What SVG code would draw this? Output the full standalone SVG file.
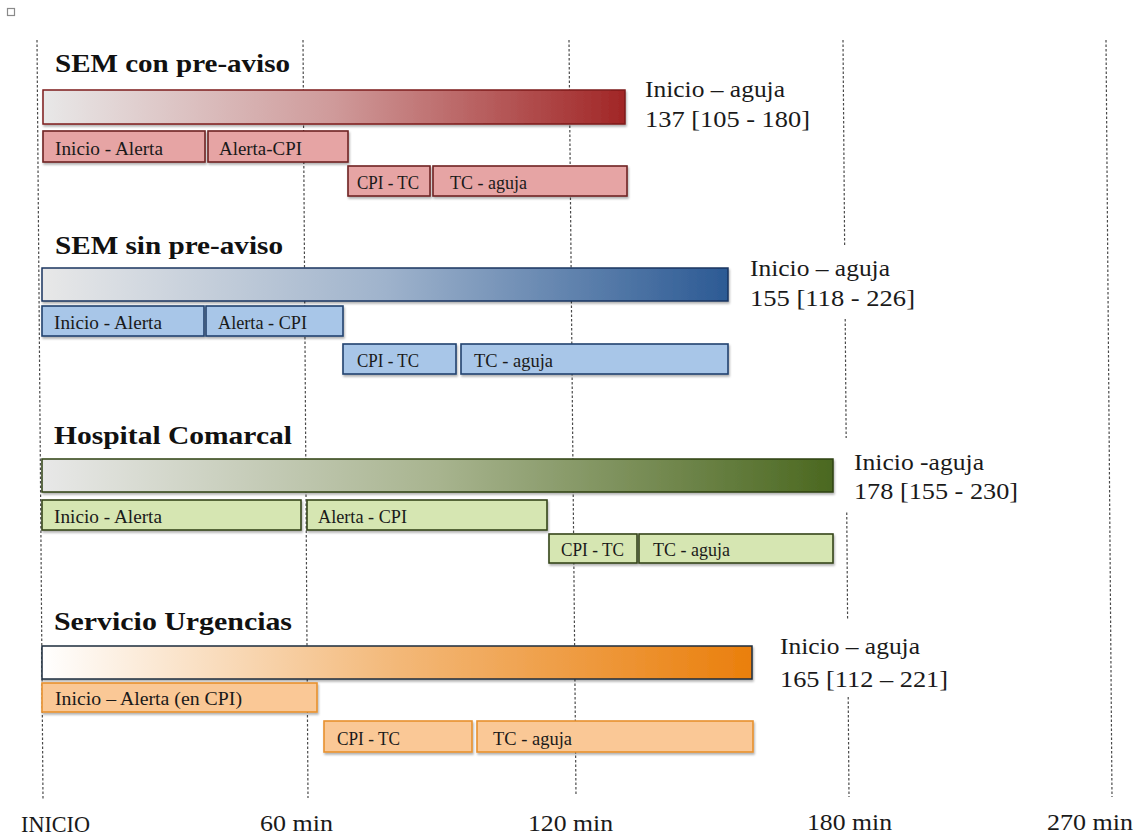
<svg xmlns="http://www.w3.org/2000/svg" width="1144" height="838" viewBox="0 0 1144 838">
  <defs>
    <style>
      .title { font-family: "Liberation Serif", "DejaVu Serif", serif; font-weight: bold; font-size: 26px; fill: #111; }
      .seg { font-family: "Liberation Serif", "DejaVu Serif", serif; font-size: 19px; fill: #1a1a1a; }
      .lbl { font-family: "Liberation Serif", "DejaVu Serif", serif; font-size: 23px; fill: #1a1a1a; }
      .axis { font-family: "Liberation Serif", "DejaVu Serif", serif; font-size: 23px; fill: #1a1a1a; }
      .grid { stroke: #4a4a4a; stroke-width: 1.2; stroke-dasharray: 2.5 2; fill: none; }
      .mask { fill: #fff; }
      .red-seg { fill: #e6a4a4; stroke: #6e2424; stroke-width: 1.6; }
      .blue-seg { fill: #a8c6e8; stroke: #22426f; stroke-width: 1.6; }
      .green-seg { fill: #d6e6b2; stroke: #36461a; stroke-width: 1.6; }
      .orange-seg { fill: #fac896; stroke: #e8912f; stroke-width: 1.6; }
    </style>
    <filter id="shadow" x="-5%" y="-30%" width="110%" height="170%">
      <feDropShadow dx="1" dy="2" stdDeviation="1.2" flood-color="#000" flood-opacity="0.3"/>
    </filter>
    <linearGradient id="gRed" x1="0" y1="0" x2="1" y2="0">
      <stop offset="0" stop-color="#e8e8e8"/>
      <stop offset="0.5" stop-color="#cf9a9a"/>
      <stop offset="1" stop-color="#a12626"/>
    </linearGradient>
    <linearGradient id="gBlue" x1="0" y1="0" x2="1" y2="0">
      <stop offset="0" stop-color="#e8e8e8"/>
      <stop offset="0.5" stop-color="#9fb3cc"/>
      <stop offset="1" stop-color="#2c5a94"/>
    </linearGradient>
    <linearGradient id="gGreen" x1="0" y1="0" x2="1" y2="0">
      <stop offset="0" stop-color="#e8e8e8"/>
      <stop offset="0.5" stop-color="#a8b48f"/>
      <stop offset="1" stop-color="#4b6820"/>
    </linearGradient>
    <linearGradient id="gOrange" x1="0" y1="0" x2="1" y2="0">
      <stop offset="0" stop-color="#ffffff"/>
      <stop offset="0.5" stop-color="#f3b878"/>
      <stop offset="1" stop-color="#ea7f0c"/>
    </linearGradient>
  </defs>

  <rect width="1144" height="838" fill="#fff"/>
  <rect x="7.5" y="8.5" width="7" height="7" fill="#fff" stroke="#8a8a8a" stroke-width="1.2"/>

  <!-- time grid -->
  <g id="connectors">
    <line class="grid" x1="37" y1="40" x2="43" y2="799"/>
    <line class="grid" x1="303" y1="40" x2="308" y2="798"/>
    <line class="grid" x1="569" y1="40" x2="576" y2="796"/>
    <line class="grid" x1="843" y1="40" x2="849" y2="797"/>
    <line class="grid" x1="1106" y1="40" x2="1112" y2="797"/>
  </g>

  <!-- label backdrops interrupting the 180 min line -->
  <rect class="mask" x="738" y="246" width="190" height="71"/>
  <rect class="mask" x="838" y="438" width="190" height="73"/>
  <rect class="mask" x="770" y="620" width="190" height="75"/>

  <!-- SEM con pre-aviso -->
  <g id="sem-con">
    <text class="title" x="55" y="72" textLength="235" lengthAdjust="spacingAndGlyphs">SEM con pre-aviso</text>
    <rect x="43" y="90" width="582" height="34" fill="url(#gRed)" stroke="#7d1c1c" stroke-width="1.5" filter="url(#shadow)"/>
    <rect class="red-seg" x="43" y="131" width="162" height="31" filter="url(#shadow)"/>
    <text class="seg" x="55" y="155" textLength="108" lengthAdjust="spacingAndGlyphs">Inicio - Alerta</text>
    <rect class="red-seg" x="208" y="131" width="140" height="31" filter="url(#shadow)"/>
    <text class="seg" x="219" y="155" textLength="83" lengthAdjust="spacingAndGlyphs">Alerta-CPI</text>
    <rect class="red-seg" x="348" y="166" width="82" height="30" filter="url(#shadow)"/>
    <text class="seg" x="357" y="189" textLength="62" lengthAdjust="spacingAndGlyphs">CPI - TC</text>
    <rect class="red-seg" x="433" y="166" width="194" height="30" filter="url(#shadow)"/>
    <text class="seg" x="450" y="189" textLength="77" lengthAdjust="spacingAndGlyphs">TC - aguja</text>
    <text class="lbl" x="645" y="97" textLength="140" lengthAdjust="spacingAndGlyphs">Inicio – aguja</text>
    <text class="lbl" x="645" y="127" textLength="165" lengthAdjust="spacingAndGlyphs">137 [105 - 180]</text>
  </g>

  <!-- SEM sin pre-aviso -->
  <g id="sem-sin">
    <text class="title" x="55" y="254" textLength="228" lengthAdjust="spacingAndGlyphs">SEM sin pre-aviso</text>
    <rect x="42" y="268" width="686" height="33" fill="url(#gBlue)" stroke="#1b3560" stroke-width="1.5" filter="url(#shadow)"/>
    <rect class="blue-seg" x="42" y="306" width="162" height="30" filter="url(#shadow)"/>
    <text class="seg" x="54" y="329" textLength="108" lengthAdjust="spacingAndGlyphs">Inicio - Alerta</text>
    <rect class="blue-seg" x="206" y="306" width="137" height="30" filter="url(#shadow)"/>
    <text class="seg" x="218" y="329" textLength="89" lengthAdjust="spacingAndGlyphs">Alerta - CPI</text>
    <rect class="blue-seg" x="343" y="344" width="113" height="30" filter="url(#shadow)"/>
    <text class="seg" x="357" y="367" textLength="62" lengthAdjust="spacingAndGlyphs">CPI - TC</text>
    <rect class="blue-seg" x="461" y="344" width="267" height="30" filter="url(#shadow)"/>
    <text class="seg" x="474" y="367" textLength="79" lengthAdjust="spacingAndGlyphs">TC - aguja</text>
    <text class="lbl" x="750" y="276" textLength="140" lengthAdjust="spacingAndGlyphs">Inicio – aguja</text>
    <text class="lbl" x="750" y="306" textLength="165" lengthAdjust="spacingAndGlyphs">155 [118 - 226]</text>
  </g>

  <!-- Hospital Comarcal -->
  <g id="hospital-comarcal">
    <text class="title" x="54" y="444" textLength="238" lengthAdjust="spacingAndGlyphs">Hospital Comarcal</text>
    <rect x="42" y="459" width="791" height="33" fill="url(#gGreen)" stroke="#2f4213" stroke-width="1.5" filter="url(#shadow)"/>
    <rect class="green-seg" x="42" y="500" width="259" height="30" filter="url(#shadow)"/>
    <text class="seg" x="54" y="523" textLength="108" lengthAdjust="spacingAndGlyphs">Inicio - Alerta</text>
    <rect class="green-seg" x="307" y="500" width="240" height="30" filter="url(#shadow)"/>
    <text class="seg" x="318" y="523" textLength="89" lengthAdjust="spacingAndGlyphs">Alerta - CPI</text>
    <rect class="green-seg" x="549" y="534" width="88" height="29" filter="url(#shadow)"/>
    <text class="seg" x="561" y="556" textLength="63" lengthAdjust="spacingAndGlyphs">CPI - TC</text>
    <rect class="green-seg" x="639" y="534" width="194" height="29" filter="url(#shadow)"/>
    <text class="seg" x="653" y="556" textLength="77" lengthAdjust="spacingAndGlyphs">TC - aguja</text>
    <text class="lbl" x="854" y="470" textLength="130" lengthAdjust="spacingAndGlyphs">Inicio -aguja</text>
    <text class="lbl" x="854" y="499" textLength="164" lengthAdjust="spacingAndGlyphs">178 [155 - 230]</text>
  </g>

  <!-- Servicio Urgencias -->
  <g id="servicio-urgencias">
    <text class="title" x="54" y="630" textLength="238" lengthAdjust="spacingAndGlyphs">Servicio Urgencias</text>
    <rect x="42" y="646" width="710" height="33" fill="url(#gOrange)" stroke="#1e2b3c" stroke-width="1.5" filter="url(#shadow)"/>
    <rect class="orange-seg" x="42" y="683" width="275" height="29" filter="url(#shadow)"/>
    <text class="seg" x="55" y="705" textLength="187" lengthAdjust="spacingAndGlyphs">Inicio – Alerta (en CPI)</text>
    <rect class="orange-seg" x="324" y="721" width="148" height="31" filter="url(#shadow)"/>
    <text class="seg" x="337" y="745" textLength="63" lengthAdjust="spacingAndGlyphs">CPI - TC</text>
    <rect class="orange-seg" x="477" y="721" width="276" height="31" filter="url(#shadow)"/>
    <text class="seg" x="493" y="745" textLength="79" lengthAdjust="spacingAndGlyphs">TC - aguja</text>
    <text class="lbl" x="780" y="654" textLength="140" lengthAdjust="spacingAndGlyphs">Inicio – aguja</text>
    <text class="lbl" x="780" y="687" textLength="168" lengthAdjust="spacingAndGlyphs">165 [112 – 221]</text>
  </g>

  <!-- time axis -->
  <g id="axis">
    <text class="axis" x="21" y="832" textLength="69" lengthAdjust="spacingAndGlyphs">INICIO</text>
    <text class="axis" x="260" y="831" textLength="73" lengthAdjust="spacingAndGlyphs">60 min</text>
    <text class="axis" x="528" y="831" textLength="85" lengthAdjust="spacingAndGlyphs">120 min</text>
    <text class="axis" x="807" y="830" textLength="85" lengthAdjust="spacingAndGlyphs">180 min</text>
    <text class="axis" x="1047" y="830" textLength="86" lengthAdjust="spacingAndGlyphs">270 min</text>
  </g>
</svg>
